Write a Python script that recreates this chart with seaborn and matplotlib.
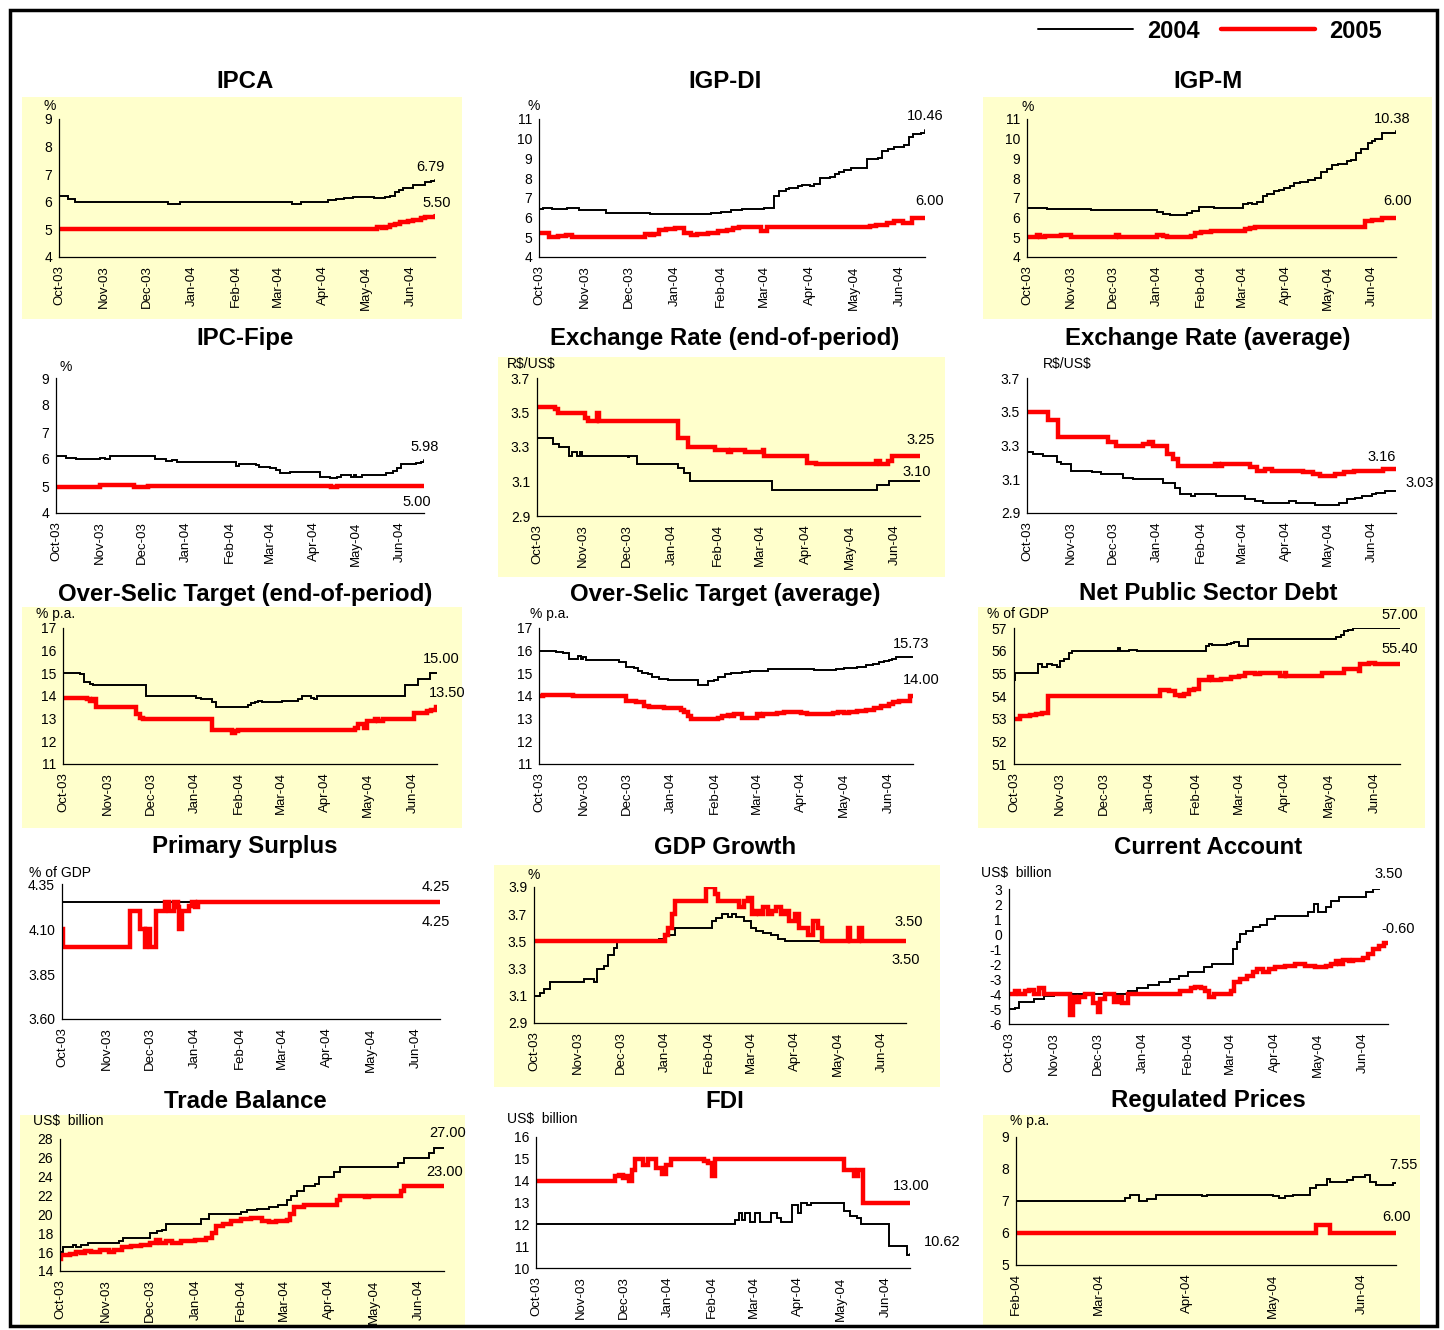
import pandas as pd
import matplotlib
matplotlib.use('Agg')
import matplotlib.pyplot as plt
import matplotlib.dates as mdates
from matplotlib.patches import Rectangle
from matplotlib.ticker import FormatStrFormatter
import seaborn as sns

# ---------------- data (dates MM-DD: Oct-Dec = 2003, Jan-Jun = 2004) ----------------
ipca04_d = ['10-01', '10-07', '10-12', '12-16', '12-24', '03-11', '03-17', '04-05', '04-10', '04-16', '04-22',
            '05-07', '05-14', '05-18', '05-21', '05-24', '05-27', '06-03', '06-11', '06-15', '06-18']
ipca04_v = [6.2, 6.1, 6.0, 5.93, 6.0, 5.93, 6.0, 6.05, 6.1, 6.15, 6.18,
            6.13, 6.17, 6.22, 6.35, 6.42, 6.5, 6.6, 6.7, 6.77, 6.79]
ipca05_d = ['10-01', '05-05', '05-09', '05-12', '05-15', '05-18', '05-21', '05-25', '05-30', '06-03', '06-08',
            '06-11', '06-15', '06-18']
ipca05_v = [5.0, 5.03, 5.08, 5.05, 5.1, 5.15, 5.2, 5.27, 5.3, 5.35, 5.4, 5.45, 5.45, 5.5]

igpdi04_d = ['10-01', '10-04', '10-10', '10-20', '10-28', '11-15', '12-15', '01-25', '02-01', '02-08', '02-15',
             '02-25', '03-01', '03-08', '03-11', '03-16', '03-18', '03-24', '03-27', '04-01', '04-04', '04-08',
             '04-15', '04-18', '04-21', '04-24', '04-29', '05-10', '05-17', '05-20', '05-24', '05-28', '06-04',
             '06-07', '06-10', '06-15', '06-18']
igpdi04_v = [6.45, 6.5, 6.42, 6.5, 6.4, 6.25, 6.2, 6.22, 6.3, 6.4, 6.45,
             6.42, 6.5, 7.1, 7.35, 7.45, 7.5, 7.6, 7.65, 7.62, 7.7, 8.0,
             8.05, 8.2, 8.3, 8.4, 8.5, 8.95, 9.0, 9.4, 9.5, 9.6, 9.7,
             10.1, 10.25, 10.3, 10.46]
igpdi05_d = ['10-01', '10-08', '10-14', '10-19', '10-23', '12-12', '12-15', '12-18', '12-21', '12-26', '01-01',
             '01-07', '01-12', '01-16', '01-23', '01-30', '02-05', '02-09', '02-13', '02-28', '03-03', '05-12',
             '05-16', '05-23', '05-28', '06-03', '06-09', '06-18']
igpdi05_v = [5.2, 5.0, 5.05, 5.1, 5.0, 5.15, 5.1, 5.15, 5.35, 5.4, 5.45,
             5.2, 5.1, 5.15, 5.2, 5.3, 5.35, 5.45, 5.5, 5.3, 5.5, 5.55,
             5.6, 5.7, 5.85, 5.75, 6.0, 6.0]

igpm04_d = ['10-01', '10-15', '11-01', '11-15', '01-01', '01-05', '01-10', '01-22', '01-26', '01-31', '02-10',
            '03-02', '03-05', '03-08', '03-12', '03-16', '03-19', '03-24', '03-27', '03-31', '04-04', '04-07',
            '04-11', '04-17', '04-22', '04-26', '04-30', '05-04', '05-08', '05-14', '05-17', '05-21', '05-24',
            '05-29', '06-01', '06-03', '06-08', '06-18']
igpm04_v = [6.5, 6.45, 6.42, 6.4, 6.3, 6.2, 6.15, 6.25, 6.35, 6.55, 6.5,
            6.7, 6.75, 6.7, 6.8, 7.1, 7.2, 7.35, 7.4, 7.5, 7.6, 7.75,
            7.8, 7.9, 8.0, 8.3, 8.45, 8.65, 8.7, 8.85, 8.9, 9.3, 9.5,
            9.8, 9.9, 10.0, 10.3, 10.38]
igpm05_d = ['10-01', '10-08', '10-10', '10-14', '10-25', '11-01', '12-03', '12-05', '01-01', '01-05', '01-08',
            '01-25', '01-28', '02-01', '02-08', '03-03', '03-07', '03-10', '05-27', '06-01', '06-08', '06-18']
igpm05_v = [5.0, 5.1, 5.0, 5.08, 5.1, 5.0, 5.1, 5.0, 5.1, 5.05, 5.0,
            5.05, 5.2, 5.25, 5.3, 5.4, 5.45, 5.5, 5.85, 5.9, 6.0, 6.0]

fipe04_d = ['10-01', '10-08', '10-15', '11-01', '11-05', '11-08', '11-20', '12-05', '12-10', '12-18',
            '12-22', '12-26', '01-10', '01-20', '02-01', '02-04', '02-06', '02-08', '02-20', '02-22',
            '03-01', '03-05', '03-08', '03-15', '04-05', '04-12', '04-17', '04-20', '04-27', '04-29',
            '05-01', '05-05', '05-22', '05-27', '05-30', '06-02', '06-08', '06-12', '06-16', '06-18']
fipe04_v = [6.1, 6.05, 6.0, 6.03, 6.0, 6.1, 6.12, 6.1, 6.0, 5.92,
            5.95, 5.9, 5.88, 5.9, 5.88, 5.9, 5.75, 5.8, 5.78, 5.7,
            5.68, 5.6, 5.5, 5.52, 5.35, 5.3, 5.35, 5.4, 5.33, 5.4,
            5.35, 5.4, 5.5, 5.55, 5.65, 5.8, 5.82, 5.85, 5.9, 5.98]
fipe05_d = ['10-01', '10-20', '11-01', '11-25', '12-05', '04-13', '04-17', '06-18']
fipe05_v = [4.95, 4.98, 5.02, 4.97, 5.0, 4.95, 5.0, 5.0]

fxe04_d = ['10-01', '10-12', '10-16', '10-23', '10-25', '10-28', '10-30', '11-01', '12-02', '12-03', '12-08',
           '01-05', '01-09', '01-13', '03-09', '05-20', '05-28', '06-18']
fxe04_v = [3.35, 3.32, 3.3, 3.25, 3.27, 3.25, 3.27, 3.25, 3.24, 3.25, 3.2,
           3.18, 3.15, 3.1, 3.05, 3.08, 3.1, 3.1]
fxe05_d = ['10-01', '10-13', '10-15', '11-03', '11-05', '11-11', '11-12', '01-05', '01-12', '01-30', '02-08',
           '02-10', '02-20', '03-03', '03-04', '04-02', '04-08', '05-19', '05-22', '05-27', '05-30', '06-18']
fxe05_v = [3.53, 3.52, 3.5, 3.47, 3.45, 3.5, 3.45, 3.35, 3.3, 3.28, 3.27,
           3.28, 3.27, 3.28, 3.25, 3.21, 3.2, 3.22, 3.2, 3.22, 3.25, 3.25]

fxa04_d = ['10-01', '10-05', '10-12', '10-22', '10-25', '11-01', '11-16', '11-22', '12-08', '12-15',
           '01-05', '01-14', '01-17', '01-25', '01-28', '02-12', '03-03', '03-10', '03-16', '04-03',
           '04-08', '04-22', '05-09', '05-14', '05-20', '05-25', '06-01', '06-04', '06-10', '06-18']
fxa04_v = [3.26, 3.25, 3.24, 3.2, 3.19, 3.15, 3.14, 3.13, 3.11, 3.1,
           3.08, 3.05, 3.01, 3.0, 3.01, 3.0, 2.98, 2.97, 2.96, 2.97,
           2.96, 2.95, 2.96, 2.98, 2.99, 3.0, 3.01, 3.02, 3.03, 3.03]
fxa05_d = ['10-01', '10-16', '10-23', '11-27', '12-03', '12-22', '12-26', '12-29', '01-08', '01-12',
           '01-16', '02-11', '02-14', '02-16', '03-07', '03-12', '03-17', '03-22', '04-13', '04-20',
           '04-25', '05-06', '05-12', '05-19', '06-09', '06-18']
fxa05_v = [3.5, 3.45, 3.35, 3.32, 3.3, 3.31, 3.32, 3.3, 3.25, 3.22,
           3.18, 3.19, 3.18, 3.19, 3.17, 3.15, 3.16, 3.15, 3.14, 3.13,
           3.12, 3.13, 3.14, 3.15, 3.16, 3.16]

selice04_d = ['10-01', '10-13', '10-16', '10-20', '10-22', '11-28', '01-02', '01-05', '01-13', '01-16',
              '02-07', '02-09', '02-12', '02-14', '02-17', '03-02', '03-13', '03-16', '03-22', '03-24',
              '03-26', '05-27', '06-05', '06-13', '06-18']
selice04_v = [15.0, 14.95, 14.6, 14.55, 14.5, 14.0, 13.9, 13.85, 13.75, 13.5,
              13.6, 13.7, 13.75, 13.8, 13.75, 13.8, 13.85, 14.0, 13.9, 13.85,
              14.0, 14.5, 14.75, 15.0, 15.0]
selice05_d = ['10-01', '10-18', '10-20', '10-22', '10-24', '11-21', '11-24', '11-26', '01-13', '01-27',
              '01-29', '01-31', '04-22', '04-24', '04-28', '04-30', '05-06', '05-08', '05-11', '06-02',
              '06-11', '06-14', '06-17', '06-18']
selice05_v = [13.9, 13.85, 13.8, 13.85, 13.5, 13.2, 13.05, 13.0, 12.5, 12.35,
              12.45, 12.5, 12.6, 12.75, 12.6, 12.9, 13.0, 12.9, 13.0, 13.25,
              13.35, 13.4, 13.5, 13.5]

selica04_d = ['10-01', '10-13', '10-18', '10-22', '10-28', '10-30', '11-01', '11-03', '11-26', '12-01',
              '12-06', '12-09', '12-12', '12-16', '12-19', '12-24', '12-30', '01-20', '01-27', '01-31',
              '02-03', '02-08', '02-12', '02-20', '02-25', '03-09', '04-10', '04-25', '05-01', '05-10',
              '05-16', '05-21', '05-25', '05-29', '06-01', '06-03', '06-06', '06-10', '06-18']
selica04_v = [16.0, 15.95, 15.9, 15.65, 15.75, 15.65, 15.7, 15.6, 15.5, 15.3,
              15.25, 15.1, 15.0, 14.95, 14.85, 14.75, 14.7, 14.5, 14.65, 14.7,
              14.85, 14.95, 15.0, 15.05, 15.1, 15.2, 15.15, 15.2, 15.25, 15.3,
              15.35, 15.4, 15.5, 15.55, 15.6, 15.65, 15.7, 15.73, 15.73]
selica05_d = ['10-01', '10-04', '10-15', '10-25', '12-01', '12-08', '12-13', '12-17', '12-27', '01-08',
              '01-10', '01-13', '01-15', '02-03', '02-06', '02-10', '02-12', '02-14', '02-20', '03-01',
              '03-03', '03-05', '03-15', '03-20', '04-01', '04-05', '04-23', '04-27', '05-01', '05-04',
              '05-10', '05-16', '05-22', '05-27', '06-01', '06-04', '06-08', '06-16', '06-18']
selica05_v = [14.0, 14.05, 14.03, 14.0, 13.8, 13.75, 13.55, 13.5, 13.45, 13.4,
              13.3, 13.1, 13.0, 13.05, 13.1, 13.15, 13.1, 13.2, 13.05, 13.2,
              13.1, 13.2, 13.25, 13.3, 13.25, 13.2, 13.25, 13.3, 13.25, 13.3,
              13.35, 13.4, 13.45, 13.55, 13.65, 13.75, 13.8, 14.0, 14.0]

debt04_d = ['10-01', '10-02', '10-17', '10-20', '10-23', '10-27', '10-30', '11-01', '11-04', '11-07',
            '11-09', '12-10', '12-12', '12-18', '12-23', '02-08', '02-10', '02-12', '02-22', '02-25',
            '02-27', '03-01', '03-07', '05-06', '05-09', '05-11', '05-14', '05-17', '06-18']
debt04_v = [54.7, 55.0, 55.4, 55.3, 55.4, 55.35, 55.3, 55.55, 55.65, 55.9,
            56.0, 56.1, 56.0, 56.05, 56.0, 56.2, 56.3, 56.25, 56.3, 56.35,
            56.4, 56.2, 56.5, 56.6, 56.7, 56.85, 56.9, 57.0, 57.0]
debt05_d = ['10-01', '10-05', '10-12', '10-16', '10-20', '10-24', '01-08', '01-14', '01-18', '01-21',
            '01-24', '01-27', '01-31', '02-03', '02-10', '02-12', '02-18', '02-25', '03-01', '03-05',
            '03-12', '03-15', '03-29', '04-01', '04-02', '04-26', '05-11', '05-21', '05-22', '05-28',
            '06-01', '06-18']
debt05_v = [53.0, 53.1, 53.15, 53.2, 53.25, 54.0, 54.25, 54.2, 54.05, 54.0,
            54.1, 54.25, 54.3, 54.7, 54.85, 54.7, 54.75, 54.85, 54.9, 55.0,
            54.95, 55.0, 54.9, 55.0, 54.9, 55.0, 55.2, 55.1, 55.4, 55.45,
            55.4, 55.4]

prim04_d = ['10-01', '06-18']
prim04_v = [4.25, 4.25]
prim05_d = ['10-01', '10-02', '11-17', '11-24', '11-27', '11-28', '12-01', '12-05', '12-11', '12-14',
            '12-17', '12-20', '12-21', '12-23', '12-28', '12-30', '01-01', '01-03', '06-18']
prim05_v = [4.1, 4.0, 4.2, 4.1, 4.0, 4.1, 4.0, 4.2, 4.25, 4.2,
            4.25, 4.22, 4.1, 4.2, 4.23, 4.25, 4.22, 4.25, 4.25]

gdp04_d = ['10-01', '10-05', '10-08', '10-12', '11-05', '11-12', '11-14', '11-19', '11-22', '11-26',
           '11-28', '12-28', '01-01', '01-08', '02-03', '02-06', '02-10', '02-14', '02-17', '02-20',
           '02-25', '03-01', '03-05', '03-10', '03-15', '03-20', '03-25', '06-18']
gdp04_v = [3.1, 3.12, 3.15, 3.2, 3.22, 3.2, 3.3, 3.32, 3.4, 3.45,
           3.5, 3.52, 3.55, 3.6, 3.65, 3.67, 3.7, 3.68, 3.7, 3.68,
           3.65, 3.6, 3.58, 3.56, 3.55, 3.52, 3.5, 3.5]
gdp05_d = ['10-01', '01-01', '01-03', '01-06', '01-08', '01-30', '02-05', '02-07', '02-22', '02-25',
           '02-28', '03-02', '03-05', '03-07', '03-10', '03-13', '03-16', '03-19', '03-22', '03-25',
           '03-28', '04-01', '04-04', '04-10', '04-14', '04-17', '04-20', '05-08', '05-10', '05-16',
           '05-18', '06-18']
gdp05_v = [3.5, 3.55, 3.6, 3.7, 3.8, 3.9, 3.85, 3.8, 3.75, 3.8,
           3.82, 3.7, 3.72, 3.7, 3.75, 3.7, 3.72, 3.75, 3.7, 3.72,
           3.65, 3.7, 3.6, 3.55, 3.65, 3.6, 3.5, 3.6, 3.5, 3.6,
           3.5, 3.5]

ca04_d = ['10-01', '10-05', '10-08', '10-18', '10-25', '11-01', '12-22', '12-28', '01-05', '01-12',
          '01-20', '01-26', '02-01', '02-12', '02-18', '03-03', '03-06', '03-08', '03-12', '03-17',
          '03-22', '03-27', '04-01', '04-24', '04-28', '05-01', '05-06', '05-10', '05-15', '06-03',
          '06-08', '06-12', '06-18']
ca04_v = [-5.0, -4.9, -4.5, -4.3, -4.1, -4.0, -3.8, -3.6, -3.4, -3.2,
          -3.0, -2.8, -2.5, -2.2, -2.0, -1.0, -0.5, 0.0, 0.2, 0.5,
          0.6, 1.0, 1.2, 1.5, 2.0, 1.5, 1.8, 2.2, 2.5, 2.8,
          3.0, 3.05, 3.05]
ca05_d = ['10-01', '10-05', '10-08', '10-12', '10-15', '10-18', '10-22', '10-25', '11-12', '11-14',
          '11-16', '11-18', '11-22', '11-28', '12-01', '12-03', '12-06', '12-12', '12-15', '12-18',
          '12-22', '01-27', '02-03', '02-06', '02-10', '02-13', '02-16', '02-19', '03-02', '03-04',
          '03-08', '03-13', '03-17', '03-20', '03-24', '03-28', '04-01', '04-08', '04-15', '04-22',
          '04-29', '05-06', '05-10', '05-13', '05-15', '05-18', '05-22', '05-25', '06-01', '06-04',
          '06-08', '06-12', '06-15', '06-18']
ca05_v = [-4.0, -3.8, -4.0, -3.8, -3.7, -4.0, -3.6, -4.0, -5.4, -4.2,
          -4.5, -4.2, -4.0, -4.6, -5.2, -4.3, -4.0, -4.5, -4.2, -4.6,
          -4.0, -3.8, -3.6, -3.5, -3.6, -3.8, -4.2, -4.0, -3.8, -3.2,
          -3.0, -2.8, -2.5, -2.3, -2.5, -2.3, -2.2, -2.1, -2.0, -2.1,
          -2.2, -2.1, -2.0, -1.8, -2.0, -1.7, -1.8, -1.7, -1.6, -1.3,
          -1.0, -0.8, -0.6, -0.6]

trade04_d = ['10-01', '10-03', '10-08', '10-10', '10-12', '10-15', '10-20', '11-10', '11-13', '12-01',
             '12-06', '12-09', '12-12', '01-05', '01-10', '02-01', '02-05', '02-12', '02-20', '02-26',
             '03-03', '03-06', '03-10', '03-15', '03-22', '03-25', '04-04', '04-08', '05-18', '05-22',
             '06-08', '06-11', '06-18']
trade04_v = [16.0, 16.5, 16.5, 16.8, 16.5, 16.8, 17.0, 17.2, 17.5, 18.0,
             18.2, 18.3, 19.0, 19.5, 20.0, 20.3, 20.5, 20.6, 20.8, 21.0,
             21.5, 22.0, 22.5, 23.0, 23.2, 24.0, 24.5, 25.0, 25.5, 26.0,
             26.5, 27.0, 27.0]
trade05_d = ['10-01', '10-02', '10-08', '10-12', '10-15', '10-18', '10-22', '10-28', '11-03', '11-07',
             '11-12', '11-18', '11-25', '12-01', '12-05', '12-08', '12-12', '12-16', '12-22', '01-01',
             '01-08', '01-12', '01-15', '01-20', '01-25', '02-01', '02-08', '02-15', '02-20', '02-25',
             '03-03', '03-05', '03-08', '03-15', '04-06', '04-08', '04-25', '04-28', '05-20', '05-22',
             '06-18']
trade05_v = [15.3, 15.7, 15.8, 16.0, 15.9, 16.1, 16.0, 16.2, 16.0, 16.2,
             16.5, 16.6, 16.8, 17.0, 17.3, 17.0, 17.2, 17.0, 17.2, 17.3,
             17.5, 18.0, 18.8, 19.0, 19.3, 19.5, 19.6, 19.3, 19.2, 19.3,
             19.4, 20.0, 20.8, 21.0, 21.5, 22.0, 21.8, 22.0, 22.5, 23.0,
             23.0]

fdi04_d = ['10-01', '02-17', '02-20', '02-22', '02-24', '02-27', '03-02', '03-05', '03-13', '03-17',
           '03-20', '03-28', '04-01', '04-03', '04-07', '04-10', '05-03', '05-07', '05-12', '05-15',
           '06-03', '06-16', '06-18']
fdi04_v = [12.0, 12.2, 12.5, 12.2, 12.5, 12.1, 12.5, 12.1, 12.5, 12.3,
           12.1, 12.9, 12.5, 13.0, 12.9, 13.0, 12.6, 12.4, 12.3, 12.0,
           11.0, 10.6, 10.62]
fdi05_d = ['10-01', '11-25', '11-28', '12-01', '12-03', '12-05', '12-07', '12-09', '12-15', '12-18',
           '12-24', '12-28', '12-31', '01-03', '01-26', '01-29', '02-01', '02-03', '05-03', '05-10',
           '05-13', '05-16', '06-18']
fdi05_v = [14.0, 14.2, 14.25, 14.1, 14.2, 14.0, 14.5, 15.0, 14.7, 15.0,
           14.6, 14.3, 14.7, 15.0, 14.9, 14.8, 14.2, 15.0, 14.5, 14.2,
           14.5, 13.0, 13.0]

reg04_d = ['02-01', '03-10', '03-12', '03-15', '03-18', '03-21', '04-06', '04-08', '05-01', '05-03',
           '05-05', '05-08', '05-14', '05-16', '05-20', '05-21', '05-27', '05-29', '06-02', '06-04',
           '06-06', '06-12', '06-13']
reg04_v = [7.0, 7.1, 7.2, 7.0, 7.05, 7.2, 7.15, 7.2, 7.15, 7.1,
           7.15, 7.2, 7.4, 7.5, 7.7, 7.6, 7.65, 7.75, 7.8, 7.6,
           7.5, 7.55, 7.55]
reg05_d = ['02-01', '05-16', '05-21', '06-13']
reg05_v = [6.0, 6.25, 6.0, 6.0]

end_labels = {
    'ipca': ['6.79', '5.50'], 'igpdi': ['10.46', '6.00'], 'igpm': ['10.38', '6.00'],
    'fipe': ['5.98', '5.00'], 'fxe': ['3.10', '3.25'], 'fxa': ['3.03', '3.16'],
    'selice': ['15.00', '13.50'], 'selica': ['15.73', '14.00'], 'debt': ['57.00', '55.40'],
    'prim': ['4.25', '4.25'], 'gdp': ['3.50', '3.50'], 'ca': ['3.50', '-0.60'],
    'trade': ['27.00', '23.00'], 'fdi': ['10.62', '13.00'], 'reg': ['7.55', '6.00'],
}


def to_dates(md):
    return pd.to_datetime([('2003-' if int(s[:2]) >= 10 else '2004-') + s for s in md])


# ---------------- layout (pixel boxes on a 1444x1330 canvas) ----------------
W, H = 1444, 1330
YEL = '#FFFFCC'
panels = [
    dict(key='ipca', title='IPCA', tc=(245, 82), unit='%', up=(43, 106),
         s04=(ipca04_d, ipca04_v), s05=(ipca05_d, ipca05_v), off=[(-5, -13), (2, -13)],
         yl=(4, 9, 1), fmt='%d', box=(59, 119, 435, 257), bg=(22, 97, 462, 319)),
    dict(key='igpdi', title='IGP-DI', tc=(725, 82), unit='%', up=(528, 106),
         s04=(igpdi04_d, igpdi04_v), s05=(igpdi05_d, igpdi05_v), off=[(0, -14), (5, -17)],
         yl=(4, 11, 1), fmt='%d', box=(539, 119, 925, 257), bg=None),
    dict(key='igpm', title='IGP-M', tc=(1208, 82), unit='%', up=(1021, 107),
         s04=(igpm04_d, igpm04_v), s05=(igpm05_d, igpm05_v), off=[(-4, -12), (2, -17)],
         yl=(4, 11, 1), fmt='%d', box=(1027, 119, 1396, 257), bg=(983, 97, 1432, 319)),
    dict(key='fipe', title='IPC-Fipe', tc=(245, 338), unit='%', up=(60, 367),
         s04=(fipe04_d, fipe04_v), s05=(fipe05_d, fipe05_v), off=[(1, -13), (-7, 16)],
         yl=(4, 9, 1), fmt='%d', box=(56, 378, 424, 513), bg=None),
    dict(key='fxe', title='Exchange Rate (end-of-period)', tc=(725, 338), unit=r'R\$/US\$', up=(507, 364),
         s04=(fxe04_d, fxe04_v), s05=(fxe05_d, fxe05_v), off=[(-3, -10), (1, -16)],
         yl=(2.9, 3.7, 0.2), fmt='%.1f', box=(537, 378, 920, 516), bg=(498, 357, 945, 577)),
    dict(key='fxa', title='Exchange Rate (average)', tc=(1208, 338), unit=r'R\$/US\$', up=(1043, 364),
         s04=(fxa04_d, fxa04_v), s05=(fxa05_d, fxa05_v), off=[(24, -8), (-14, -12)],
         yl=(2.9, 3.7, 0.2), fmt='%.1f', box=(1027, 378, 1396, 513), bg=None),
    dict(key='selice', title='Over-Selic Target (end-of-period)', tc=(245, 594), unit='% p.a.', up=(36, 614),
         s04=(selice04_d, selice04_v), s05=(selice05_d, selice05_v), off=[(4, -14), (10, -14)],
         yl=(11, 17, 1), fmt='%d', box=(63, 628, 437, 764), bg=(22, 607, 462, 828)),
    dict(key='selica', title='Over-Selic Target (average)', tc=(725, 594), unit='% p.a.', up=(530, 614),
         s04=(selica04_d, selica04_v), s05=(selica05_d, selica05_v), off=[(-2, -13), (8, -16)],
         yl=(11, 17, 1), fmt='%d', box=(539, 628, 913, 764), bg=None),
    dict(key='debt', title='Net Public Sector Debt', tc=(1208, 594), unit='% of GDP', up=(987, 614),
         s04=(debt04_d, debt04_v), s05=(debt05_d, debt05_v), off=[(0, -13), (0, -15)],
         yl=(51, 57, 1), fmt='%d', box=(1014, 628, 1400, 764), bg=(978, 607, 1425, 828)),
    dict(key='prim', title='Primary Surplus', tc=(245, 847), unit='% of GDP', up=(29, 873),
         s04=(prim04_d, prim04_v), s05=(prim05_d, prim05_v), off=[(-4, 20), (-4, -15)],
         yl=(3.60, 4.35, 0.25), fmt='%.2f', box=(62, 884, 440, 1019), bg=None),
    dict(key='gdp', title='GDP Growth', tc=(725, 847), unit='%', up=(528, 875),
         s04=(gdp04_d, gdp04_v), s05=(gdp05_d, gdp05_v), off=[(0, 19), (3, -19)],
         yl=(2.9, 3.9, 0.2), fmt='%.1f', box=(534, 887, 906, 1023), bg=(494, 865, 940, 1087)),
    dict(key='ca', title='Current Account', tc=(1208, 847), unit='US\\$  billion', up=(981, 873),
         s04=(ca04_d, ca04_v), s05=(ca05_d, ca05_v), off=[(1, -14), (10, -14)],
         yl=(-6, 3, 1), fmt='%d', box=(1009, 889, 1388, 1024), bg=None),
    dict(key='trade', title='Trade Balance', tc=(245, 1101), unit='US\\$  billion', up=(33, 1121),
         s04=(trade04_d, trade04_v), s05=(trade05_d, trade05_v), off=[(4, -15), (1, -14)],
         yl=(14, 28, 2), fmt='%d', box=(60, 1139, 444, 1271), bg=(20, 1115, 465, 1328)),
    dict(key='fdi', title='FDI', tc=(725, 1101), unit='US\\$  billion', up=(507, 1119),
         s04=(fdi04_d, fdi04_v), s05=(fdi05_d, fdi05_v), off=[(32, -12), (1, -16)],
         yl=(10, 16, 1), fmt='%d', box=(536, 1137, 910, 1268), bg=None),
    dict(key='reg', title='Regulated Prices', tc=(1208, 1101), unit='% p.a.', up=(1010, 1121),
         s04=(reg04_d, reg04_v), s05=(reg05_d, reg05_v), off=[(7, -18), (1, -16)],
         yl=(5, 9, 1), fmt='%d', box=(1016, 1137, 1396, 1265), bg=(983, 1115, 1420, 1328)),
]

sns.set_style('white')
plt.rcParams['font.family'] = ['Liberation Sans', 'DejaVu Sans']
plt.rcParams['text.color'] = 'black'
plt.rcParams['xtick.color'] = 'black'
plt.rcParams['ytick.color'] = 'black'
plt.rcParams['axes.edgecolor'] = 'black'

fig = plt.figure(figsize=(W / 100, H / 100), dpi=100)
fig.patch.set_facecolor('white')


def fx(px):
    return px / W


def fy(py):
    return 1 - py / H


handles = None
for p in panels:
    if p['bg'] is not None:
        bx0, by0, bx1, by1 = p['bg']
        fig.add_artist(Rectangle((fx(bx0), fy(by1)), fx(bx1 - bx0), (by1 - by0) / H,
                                 transform=fig.transFigure, facecolor=YEL, edgecolor='none', zorder=-5))
    x0, y0, x1, y1 = p['box']
    ax = fig.add_axes([fx(x0), fy(y1), fx(x1 - x0), (y1 - y0) / H])
    ax.set_facecolor('none')

    series = [(p['s04'], 'black', 1.4), (p['s05'], '#FF0000', 3.2)]
    for (d, v), col, lw in series:
        sns.lineplot(x=to_dates(d), y=v, ax=ax, color=col, lw=lw, drawstyle='steps-post',
                     estimator=None, solid_joinstyle='miter')

    first = to_dates(p['s04'][0])[0]
    last = to_dates(p['s04'][0])[-1]
    ax.set_xlim(first, last)
    lo, hi, step = p['yl']
    ax.set_ylim(lo, hi)
    nt = int(round((hi - lo) / step)) + 1
    ax.set_yticks([lo + i * step for i in range(nt)])
    ax.yaxis.set_major_formatter(FormatStrFormatter(p['fmt']))
    ax.xaxis.set_major_locator(mdates.MonthLocator())
    ax.xaxis.set_major_formatter(mdates.DateFormatter('%b-%y'))
    ax.tick_params(axis='x', labelsize=9.5, rotation=90, length=4, width=0.8, pad=2, direction='out')
    ax.tick_params(axis='y', labelsize=10, length=3, width=0.8, pad=2, direction='out')
    ax.set_xlabel('')
    ax.set_ylabel('')
    sns.despine(ax=ax)
    for s in ('left', 'bottom'):
        ax.spines[s].set_linewidth(0.9)

    for ((d, v), lab, off) in zip([p['s04'], p['s05']], end_labels[p['key']], p['off']):
        ax.annotate(lab, xy=(mdates.date2num(to_dates(d)[-1]), v[-1]), xytext=(off[0], -off[1]),
                    textcoords='offset pixels', ha='center', va='center', fontsize=10.5,
                    annotation_clip=False)

    fig.text(fx(p['tc'][0]), fy(p['tc'][1]), p['title'], ha='center', va='center',
             fontsize=17.3, fontweight='bold')
    fig.text(fx(p['up'][0]), fy(p['up'][1]), p['unit'], ha='left', va='center', fontsize=10)

    if handles is None:
        handles = ax.lines[:2]

fig.legend(handles, ['2004', '2005'], loc='center right', bbox_to_anchor=(fx(1382), fy(31)),
           ncol=2, frameon=False, prop={'weight': 'bold', 'size': 17}, handlelength=4.0,
           handletextpad=0.6, columnspacing=0.9, borderpad=0, borderaxespad=0)

fig.add_artist(Rectangle((fx(10), fy(1326)), fx(1427), 1316 / H, transform=fig.transFigure,
                         fill=False, edgecolor='black', linewidth=2.5, zorder=10))

fig.savefig('out.png', dpi=100)
